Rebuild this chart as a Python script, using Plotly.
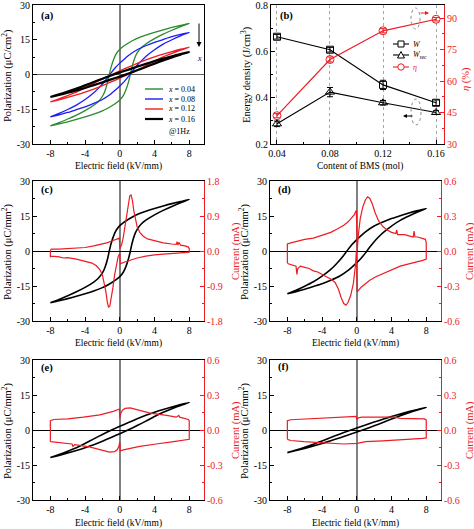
import plotly.graph_objects as go

# ---------------- data ----------------
# P-E loops (E in kV/mm, P in uC/cm2): descending branch (UP) and ascending branch (LO)
E_UP_004 = [8, 7, 6, 5, 4, 3, 2, 1.5, 1, 0.5, 0, -0.4, -0.7, -1.0, -1.2, -1.4, -1.7, -2.0, -2.5, -3, -4, -5, -6, -7, -8]
P_UP_004 = [22.1, 21.2, 20.3, 19.3, 18.2, 17.0, 15.6, 14.7, 13.6, 12.4, 10.9, 9.0, 6.6, 3.2, 0.2, -3.2, -7.0, -9.4, -11.8, -13.3, -15.6, -17.5, -19.2, -20.8, -22.2]
E_LO_004 = [-8, -7, -6, -5, -4, -3, -2, -1.5, -1, -0.5, 0, 0.4, 0.7, 1.0, 1.2, 1.4, 1.7, 2.0, 2.5, 3, 4, 5, 6, 7, 8]
P_LO_004 = [-22.2, -21.3, -20.4, -19.4, -18.3, -17.1, -15.7, -14.8, -13.7, -12.5, -11.0, -9.1, -6.7, -3.3, -0.3, 3.1, 6.9, 9.3, 11.7, 13.2, 15.5, 17.4, 19.1, 20.7, 22.1]

E_UP_008 = [8, 7, 6, 5, 4, 3, 2, 1, 0.5, 0, -0.5, -1, -1.5, -2, -2.5, -3, -4, -5, -6, -7, -8]
P_UP_008 = [18.2, 17.3, 16.3, 15.1, 13.9, 12.4, 10.7, 8.2, 6.6, 4.9, 3.0, 0.7, -1.8, -4.1, -6.1, -7.9, -10.8, -13.2, -15.1, -16.8, -18.3]
E_LO_008 = [-8, -7, -6, -5, -4, -3, -2, -1, -0.5, 0, 0.5, 1, 1.5, 2, 2.5, 3, 4, 5, 6, 7, 8]
P_LO_008 = [-18.3, -17.4, -16.4, -15.2, -14.0, -12.5, -10.8, -8.3, -6.7, -5.0, -3.1, -0.8, 1.7, 4.0, 6.0, 7.8, 10.7, 13.1, 15.0, 16.7, 18.2]

E_UP_012 = [8, 7, 6, 5, 4, 3, 2, 1, 0, -1, -2, -3, -4, -5, -6, -7, -8]
P_UP_012 = [11.8, 10.9, 9.9, 8.8, 7.6, 6.3, 4.8, 3.2, 1.6, -0.1, -1.9, -3.8, -5.8, -7.6, -9.1, -10.5, -11.8]
E_LO_012 = [-8, -7, -6, -5, -4, -3, -2, -1, 0, 1, 2, 3, 4, 5, 6, 7, 8]
P_LO_012 = [-11.8, -10.9, -9.9, -8.8, -7.6, -6.3, -4.8, -3.2, -1.6, 0.1, 1.9, 3.8, 5.8, 7.6, 9.1, 10.5, 11.8]

E_UP_016 = [8, 7, 6, 5, 4, 3, 2, 1, 0, -1, -2, -3, -4, -5, -6, -7, -8]
P_UP_016 = [9.7, 8.8, 7.9, 6.9, 5.8, 4.6, 3.4, 2.1, 0.9, -0.4, -1.8, -3.2, -4.7, -6.1, -7.4, -8.6, -9.7]
E_LO_016 = [-8, -7, -6, -5, -4, -3, -2, -1, 0, 1, 2, 3, 4, 5, 6, 7, 8]
P_LO_016 = [-9.7, -8.8, -7.9, -6.9, -5.8, -4.6, -3.4, -2.1, -0.9, 0.4, 1.8, 3.2, 4.7, 6.1, 7.4, 8.6, 9.7]

# I-E current loops, (E kV/mm, I mA) pairs, in time order
IE_004 = [(-8.0, 0.0), (-7.9, 0.05), (-7.0, 0.05), (-6.0, 0.06), (-5.0, 0.08), (-4.0, 0.09), (-3.0, 0.13),
          (-2.0, 0.18), (-1.5, 0.21), (-1.0, 0.25), (-0.5, 0.29), (-0.05, 0.33), (0.0, 0.06), (0.2, 0.15),
          (0.4, 0.35), (0.6, 0.62), (0.8, 0.95), (1.0, 1.25), (1.15, 1.42), (1.3, 1.44), (1.45, 1.3),
          (1.6, 1.05), (1.8, 0.8), (2.0, 0.62), (2.3, 0.48), (2.7, 0.38), (3.2, 0.31), (4.0, 0.26),
          (5.0, 0.21), (6.0, 0.18), (6.5, 0.17), (6.6, 0.24), (6.7, 0.15), (6.8, 0.22), (6.9, 0.16),
          (7.0, 0.15), (7.5, 0.13), (7.9, 0.1), (8.0, 0.06), (8.0, -0.03), (7.0, -0.05), (6.0, -0.06),
          (5.0, -0.08), (4.0, -0.1), (3.0, -0.13), (2.0, -0.18), (1.5, -0.21), (1.0, -0.25), (0.5, -0.29),
          (0.05, -0.33), (0.0, -0.06), (-0.2, -0.15), (-0.4, -0.35), (-0.6, -0.62), (-0.8, -0.95),
          (-1.0, -1.25), (-1.15, -1.42), (-1.3, -1.44), (-1.45, -1.3), (-1.6, -1.05), (-1.8, -0.8),
          (-2.0, -0.62), (-2.3, -0.48), (-2.7, -0.38), (-3.2, -0.31), (-4.0, -0.26), (-5.0, -0.21),
          (-5.5, -0.19), (-6.0, -0.17), (-6.5, -0.18), (-7.0, -0.15), (-7.5, -0.14), (-7.9, -0.13),
          (-8.0, -0.16), (-8.0, 0.0)]

IE_008 = [(-8.0, -0.10), (-8.0, 0.06), (-7.6, 0.07), (-7.0, 0.08), (-6.0, 0.10), (-5.0, 0.11), (-4.2, 0.13),
          (-3.0, 0.16), (-2.2, 0.19), (-1.5, 0.22), (-1.0, 0.25), (-0.6, 0.28), (-0.3, 0.31), (-0.05, 0.35),
          (0.05, 0.0), (0.15, 0.12), (0.4, 0.28), (0.7, 0.38), (1.0, 0.44), (1.25, 0.465), (1.5, 0.45),
          (1.8, 0.40), (2.1, 0.33), (2.5, 0.26), (3.0, 0.21), (3.5, 0.18), (4.0, 0.16), (4.5, 0.15),
          (4.6, 0.18), (4.7, 0.14), (5.5, 0.14), (6.0, 0.13), (6.5, 0.12), (6.6, 0.17), (6.7, 0.12),
          (7.0, 0.12), (7.5, 0.11), (7.9, 0.10), (8.0, 0.07), (8.0, -0.07), (7.6, -0.08), (7.0, -0.09),
          (6.0, -0.11), (5.0, -0.13), (4.0, -0.16), (3.0, -0.19), (2.2, -0.22), (1.5, -0.25), (1.0, -0.28),
          (0.5, -0.31), (0.05, -0.35), (-0.05, 0.0), (-0.15, -0.12), (-0.4, -0.28), (-0.7, -0.38),
          (-1.0, -0.44), (-1.25, -0.465), (-1.5, -0.45), (-1.8, -0.40), (-2.1, -0.33), (-2.5, -0.27),
          (-3.0, -0.24), (-3.5, -0.22), (-4.0, -0.20), (-4.5, -0.18), (-5.0, -0.17), (-5.5, -0.15),
          (-6.0, -0.14), (-6.5, -0.13), (-6.8, -0.15), (-6.9, -0.20), (-7.0, -0.13), (-7.5, -0.12),
          (-7.9, -0.11), (-8.0, -0.10)]

IE_012 = [(-8.0, -0.10), (-8.0, 0.08), (-7.6, 0.09), (-6.0, 0.095), (-4.2, 0.11), (-2.3, 0.13), (-0.75, 0.16),
          (-0.05, 0.18), (0.0, 0.10), (0.1, 0.14), (0.3, 0.17), (0.6, 0.185), (1.2, 0.19), (2.3, 0.17),
          (3.5, 0.145), (5.4, 0.125), (6.5, 0.11), (6.8, 0.125), (6.9, 0.11), (7.9, 0.09), (8.0, 0.08),
          (8.0, -0.08), (7.6, -0.085), (6.2, -0.10), (4.2, -0.12), (2.3, -0.14), (0.4, -0.17), (0.05, -0.18),
          (0.0, -0.10), (-0.1, -0.14), (-0.3, -0.17), (-0.6, -0.185), (-1.2, -0.19), (-2.3, -0.17),
          (-3.5, -0.145), (-5.2, -0.125), (-5.4, -0.14), (-5.5, -0.12), (-6.5, -0.11), (-7.6, -0.10),
          (-8.0, -0.10)]

IE_016 = [(-8.0, -0.08), (-8.0, 0.08), (-7.6, 0.088), (-6.0, 0.095), (-4.2, 0.103), (-2.0, 0.11),
          (-0.05, 0.117), (0.0, 0.09), (0.2, 0.105), (0.6, 0.11), (2.0, 0.11), (4.0, 0.105), (4.4, 0.11),
          (5.0, 0.10), (6.0, 0.10), (6.8, 0.098), (7.8, 0.095), (8.0, 0.085), (8.0, -0.068), (7.6, -0.072),
          (5.5, -0.083), (3.0, -0.093), (1.0, -0.10), (0.05, -0.115), (-1.5, -0.12), (-3.0, -0.115),
          (-4.2, -0.11), (-6.1, -0.10), (-7.6, -0.09), (-8.0, -0.08)]

# Energy storage vs BMS content
BMS = [0.04, 0.08, 0.12, 0.16]
W_TOT = [0.663, 0.607, 0.455, 0.378]
W_TOT_ERR = [0.010, 0.010, 0.020, 0.012]
W_REC = [0.287, 0.424, 0.378, 0.336]
W_REC_ERR = [0.012, 0.020, 0.010, 0.008]
ETA = [43.5, 70.3, 84.0, 89.5]
ETA_ERR = [1.0, 1.2, 1.0, 0.8]

COMP_LABELS = ["0.04", "0.08", "0.12", "0.16"]

# tick labels
E_TICKS = [-8, -4, 0, 4, 8]
E_TICKTEXT = ["-8", "-4", "0", "4", "8"]
P_TICKS = [-30, -15, 0, 15, 30]
P_TICKTEXT = ["-30", "-15", "0", "15", "30"]
I_TICKS_C = [-1.8, -0.9, 0, 0.9, 1.8]
I_TICKTEXT_C = ["-1.8", "-0.9", "0.0", "0.9", "1.8"]
I_TICKS_S = [-0.6, -0.3, 0, 0.3, 0.6]
I_TICKTEXT_S = ["-0.6", "-0.3", "0.0", "0.3", "0.6"]
BMS_TICKS = [0.04, 0.08, 0.12, 0.16]
BMS_TICKTEXT = ["0.04", "0.08", "0.12", "0.16"]
EN_TICKS = [0.2, 0.4, 0.6, 0.8]
EN_TICKTEXT = ["0.2", "0.4", "0.6", "0.8"]
ETA_TICKS = [30, 45, 60, 75, 90]
ETA_TICKTEXT = ["30", "45", "60", "75", "90"]

# ---------------- styling ----------------
FW, FH = 474, 529
SERIF = "Liberation Serif"
RED = "#ec1c24"
GREEN = "#2b8a2b"
BLUE = "#1c1cf5"
TICKF = dict(family=SERIF, size=10, color="black")
TICKF_R = dict(family=SERIF, size=10, color=RED)
XT_F = dict(family=SERIF, size=9.5, color="black")
YT_F = dict(family=SERIF, size=10.5, color="black")
YT_FR = dict(family=SERIF, size=10.5, color=RED)


def X(p):
    return p / FW


def Y(p):
    return 1 - p / FH


def xd(a, b):
    return [X(a), X(b)]


def yd(top, bottom):
    return [Y(bottom), Y(top)]


def axis(**kw):
    d = dict(showline=True, linecolor="black", linewidth=1, ticks="inside", ticklen=4, tickwidth=1,
             tickcolor="black", tickfont=TICKF, showgrid=False, zeroline=False, tickmode="array",
             automargin=False, ticklabeloverflow="allow")
    d.update(kw)
    return d


fig = go.Figure()

# ---- panel (a) ----
loops = [(E_UP_004 + E_LO_004, P_UP_004 + P_LO_004, GREEN, 1.3),
         (E_UP_008 + E_LO_008, P_UP_008 + P_LO_008, BLUE, 1.3),
         (E_UP_012 + E_LO_012, P_UP_012 + P_LO_012, RED, 1.3),
         (E_UP_016 + E_LO_016, P_UP_016 + P_LO_016, "black", 2.2)]
for ex, py, col, w in loops:
    fig.add_trace(go.Scatter(x=ex, y=py, mode="lines", line=dict(color=col, width=w, shape="spline", smoothing=0.6),
                             xaxis="x", yaxis="y", showlegend=False, hoverinfo="skip"))

# ---- panel (b) ----
fig.add_trace(go.Scatter(x=BMS, y=W_TOT, mode="lines+markers", xaxis="x2", yaxis="y2", showlegend=False,
                         line=dict(color="black", width=1.2),
                         marker=dict(symbol="square-open", size=7, color="black", line=dict(width=1)),
                         error_y=dict(type="data", array=W_TOT_ERR, color="black", thickness=1, width=3)))
fig.add_trace(go.Scatter(x=BMS, y=W_REC, mode="lines+markers", xaxis="x2", yaxis="y2", showlegend=False,
                         line=dict(color="black", width=1.2),
                         marker=dict(symbol="triangle-up-open", size=8, color="black", line=dict(width=1)),
                         error_y=dict(type="data", array=W_REC_ERR, color="black", thickness=1, width=3)))
fig.add_trace(go.Scatter(x=BMS, y=ETA, mode="lines+markers", xaxis="x2", yaxis="y3", showlegend=False,
                         line=dict(color=RED, width=1.2),
                         marker=dict(symbol="circle-open", size=8, color=RED, line=dict(width=1)),
                         error_y=dict(type="data", array=ETA_ERR, color=RED, thickness=1, width=3)))

# ---- panels (c)-(f) ----
single = [("x3", "y4", "y5", E_UP_004 + E_LO_004, P_UP_004 + P_LO_004, IE_004),
          ("x4", "y6", "y7", E_UP_008 + E_LO_008, P_UP_008 + P_LO_008, IE_008),
          ("x5", "y8", "y9", E_UP_012 + E_LO_012, P_UP_012 + P_LO_012, IE_012),
          ("x6", "y10", "y11", E_UP_016 + E_LO_016, P_UP_016 + P_LO_016, IE_016)]
for xa, ya, yb, ex, py, ie in single:
    fig.add_trace(go.Scatter(x=ex, y=py, mode="lines", xaxis=xa, yaxis=ya, showlegend=False, hoverinfo="skip",
                             line=dict(color="black", width=1.6, shape="spline", smoothing=0.6)))
    fig.add_trace(go.Scatter(x=[p[0] for p in ie], y=[p[1] for p in ie], mode="lines", xaxis=xa, yaxis=yb,
                             showlegend=False, hoverinfo="skip", line=dict(color=RED, width=1.2)))

# ---------------- axes ----------------
E_RANGE = [-10, 9.7]
PAN = {"a": ((33, 204), (5, 144)), "b": ((271, 444), (5, 144)),
       "c": ((33, 204), (181, 321)), "d": ((270, 441), (181, 321)),
       "e": ((33, 204), (360, 500)), "f": ((270, 441), (360, 500))}

lay = {}
# (a)
lay["xaxis"] = axis(domain=xd(*PAN["a"][0]), range=E_RANGE, anchor="y", mirror=True, tickvals=E_TICKS,
                    ticktext=E_TICKTEXT, zeroline=True, zerolinecolor="#808080", zerolinewidth=1.6,
                    minor=dict(ticks="inside", ticklen=2, tickmode="linear", tick0=0, dtick=2, tickcolor="black"))
lay["yaxis"] = axis(domain=yd(*PAN["a"][1]), range=[-30, 30], anchor="x", mirror=True, tickvals=P_TICKS,
                    ticktext=P_TICKTEXT, zeroline=True, zerolinecolor="#606060", zerolinewidth=1.4,
                    minor=dict(ticks="inside", ticklen=2, tickmode="linear", tick0=0, dtick=7.5, tickcolor="black"))
# (b)
lay["xaxis2"] = axis(domain=xd(*PAN["b"][0]), range=[0.0355, 0.166], anchor="y2", mirror=True,
                     tickvals=BMS_TICKS, ticktext=BMS_TICKTEXT, showgrid=True, gridcolor="#a8a8a8",
                     griddash="dot", gridwidth=1,
                     minor=dict(ticks="inside", ticklen=2, tickmode="linear", tick0=0, dtick=0.02, tickcolor="black"))
lay["yaxis2"] = axis(domain=yd(*PAN["b"][1]), range=[0.2, 0.8], anchor="x2", tickvals=EN_TICKS,
                     ticktext=EN_TICKTEXT,
                     minor=dict(ticks="inside", ticklen=2, tickmode="linear", tick0=0, dtick=0.1, tickcolor="black"))
lay["yaxis3"] = axis(overlaying="y2", side="right", anchor="x2", range=[30, 96.3], tickvals=ETA_TICKS,
                     ticktext=ETA_TICKTEXT, linecolor=RED, tickcolor=RED, tickfont=TICKF_R,
                     minor=dict(ticks="inside", ticklen=2, tickmode="linear", tick0=0, dtick=7.5, tickcolor=RED))

for key, xa, ya, yb, itv, itt, idt in [("c", "xaxis3", "yaxis4", "yaxis5", I_TICKS_C, I_TICKTEXT_C, 0.45),
                                        ("d", "xaxis4", "yaxis6", "yaxis7", I_TICKS_S, I_TICKTEXT_S, 0.15),
                                        ("e", "xaxis5", "yaxis8", "yaxis9", I_TICKS_S, I_TICKTEXT_S, 0.15),
                                        ("f", "xaxis6", "yaxis10", "yaxis11", I_TICKS_S, I_TICKTEXT_S, 0.15)]:
    xs = "x" + xa[5:]
    ys = "y" + ya[5:]
    lay[xa] = axis(domain=xd(*PAN[key][0]), range=E_RANGE, anchor=ys, mirror=True, tickvals=E_TICKS,
                   ticktext=E_TICKTEXT, zeroline=True, zerolinecolor="#808080", zerolinewidth=1.6,
                   minor=dict(ticks="inside", ticklen=2, tickmode="linear", tick0=0, dtick=2, tickcolor="black"))
    lay[ya] = axis(domain=yd(*PAN[key][1]), range=[-30, 30], anchor=xs, tickvals=P_TICKS, ticktext=P_TICKTEXT,
                   zeroline=True, zerolinecolor="black", zerolinewidth=1.2,
                   minor=dict(ticks="inside", ticklen=2, tickmode="linear", tick0=0, dtick=7.5, tickcolor="black"))
    lay[yb] = axis(overlaying=ys, side="right", anchor=xs, range=[itv[0], itv[-1]], tickvals=itv, ticktext=itt,
                   linecolor=RED, tickcolor=RED, tickfont=TICKF_R,
                   minor=dict(ticks="inside", ticklen=2, tickmode="linear", tick0=0, dtick=idt, tickcolor=RED))

fig.update_layout(**lay)

# ---------------- annotations & decorations ----------------
ann = []
shapes = []


def text(t, px, py, font, angle=0, xa="center", ya="middle"):
    ann.append(dict(text=t, x=X(px), y=Y(py), xref="paper", yref="paper", xanchor=xa, yanchor=ya,
                    showarrow=False, font=font, textangle=angle))


# axis titles
for cx, cy in [(118, 166), (118, 343), (118, 523), (355, 343), (355, 523)]:
    text("Electric field (kV/mm)", cx, cy, XT_F)
text("Content of BMS (mol)", 360, 166, XT_F)
text("Polarization (μC/cm<sup>2</sup>)", 7, 76, YT_F, -90)
for cx, cy in [(7, 252), (244, 252), (7, 431), (244, 431)]:
    text("Polarization (μC/mm<sup>2</sup>)", cx, cy, YT_F, -90)
for cx, cy in [(236, 251), (470, 251), (236, 430), (470, 430)]:
    text("Current (mA)", cx, cy, YT_FR, -90)
text("Energy density (J/cm<sup>3</sup>)", 246, 75, YT_F, -90)
text("<i>η</i> (%)", 466, 79, YT_FR, -90)

LBL = dict(family=SERIF, size=10.5, color="black")
for txt, px, py in [("(a)", 39, 16), ("(b)", 278, 16), ("(c)", 39, 190), ("(d)", 276, 190),
                    ("(e)", 39, 368), ("(f)", 276, 367)]:
    text("<b>" + txt + "</b>", px, py, LBL, xa="left")

# legend (a)
LEGF = dict(family=SERIF, size=8, color="black")
for i, (lab, col, w) in enumerate(zip(COMP_LABELS, [GREEN, BLUE, RED, "black"], [1.4, 1.4, 1.4, 2.2])):
    yy = 89 + 10 * i
    shapes.append(dict(type="line", xref="paper", yref="paper", x0=X(145), x1=X(163), y0=Y(yy), y1=Y(yy),
                       line=dict(color=col, width=w)))
    text("<i>x</i> = " + lab, 166, yy, LEGF, xa="left")
text("@1Hz", 167, 131, LEGF, xa="left")
# arrow x in (a)
ann.append(dict(text="", x=X(199), y=Y(47), ax=0, ay=-25, xref="paper", yref="paper", showarrow=True,
                arrowhead=2, arrowsize=1, arrowwidth=1, arrowcolor="black"))
text("<i>x</i>", 199, 59, LEGF)

# legend (b)
for i, (lab, col) in enumerate([("<i>W</i>", "black"), ("<i>W</i><sub>rec</sub>", "black"), ("<i>η</i>", RED)]):
    yy = [44, 55, 67][i]
    shapes.append(dict(type="line", xref="paper", yref="paper", x0=X(393), x1=X(409), y0=Y(yy), y1=Y(yy),
                       line=dict(color=col, width=1.1)))
    text(lab, 411, yy, dict(family=SERIF, size=8, color=col), xa="left")
shapes.append(dict(type="rect", xref="paper", yref="paper", x0=X(398), x1=X(404), y0=Y(47), y1=Y(41),
                   line=dict(color="black", width=1), fillcolor="white"))
shapes.append(dict(type="path", xref="paper", yref="paper",
                   path="M {} {} L {} {} L {} {} Z".format(X(397.5), Y(58), X(404.5), Y(58), X(401), Y(51.5)),
                   line=dict(color="black", width=1), fillcolor="white"))
shapes.append(dict(type="circle", xref="paper", yref="paper", x0=X(397.8), x1=X(404.2), y0=Y(70.2), y1=Y(63.8),
                   line=dict(color=RED, width=1), fillcolor="white"))
# rotation ellipses in (b)
shapes.append(dict(type="circle", xref="paper", yref="paper", x0=X(411), x1=X(420), y0=Y(29), y1=Y(8),
                   line=dict(color="#888888", width=1, dash="dot")))
ann.append(dict(text="", x=X(429), y=Y(13), ax=-10, ay=0, xref="paper", yref="paper", showarrow=True,
                arrowhead=2, arrowsize=0.8, arrowwidth=1, arrowcolor=RED))
shapes.append(dict(type="circle", xref="paper", yref="paper", x0=X(411), x1=X(421), y0=Y(125), y1=Y(99),
                   line=dict(color="#888888", width=1, dash="dot")))
ann.append(dict(text="", x=X(403), y=Y(116), ax=11, ay=0, xref="paper", yref="paper", showarrow=True,
                arrowhead=2, arrowsize=0.8, arrowwidth=1, arrowcolor="black"))

fig.update_layout(annotations=ann, shapes=shapes, width=FW, height=FH,
                  margin=dict(l=0, r=0, t=0, b=0), paper_bgcolor="white", plot_bgcolor="white",
                  font=dict(family=SERIF, size=10, color="black"), showlegend=False)

fig.write_html("out.html", config={"displayModeBar": False},
               post_script="document.body.style.margin='0px';document.body.style.overflow='hidden';")
